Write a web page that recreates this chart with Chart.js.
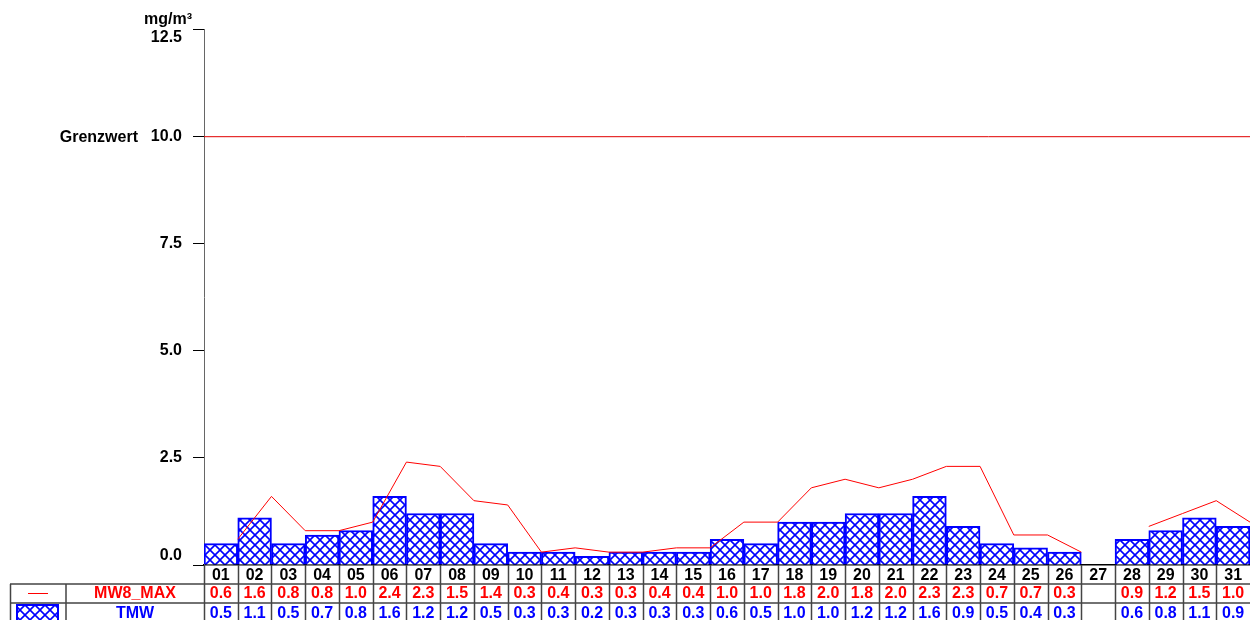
<!DOCTYPE html>
<html lang="de">
<head>
  <meta charset="UTF-8" />
  <title>MW8_MAX / TMW</title>
  <style>
    body { margin: 0; padding: 0; background: #fff; }
    #wrap { position: relative; width: 1250px; height: 620px; }
  </style>
  <script src="https://cdn.jsdelivr.net/npm/chart.js"></script>
</head>
<body>
  <div id="wrap"><canvas id="chart"></canvas></div>

  <script>
    // data
    const days = ['01','02','03','04','05','06','07','08','09','10','11','12','13','14','15','16',
                  '17','18','19','20','21','22','23','24','25','26','27','28','29','30','31'];
    const mw8Max = [0.6, 1.6, 0.8, 0.8, 1.0, 2.4, 2.3, 1.5, 1.4, 0.3, 0.4, 0.3, 0.3, 0.4, 0.4, 1.0,
                    1.0, 1.8, 2.0, 1.8, 2.0, 2.3, 2.3, 0.7, 0.7, 0.3, null, 0.9, 1.2, 1.5, 1.0];
    const tmw = [0.5, 1.1, 0.5, 0.7, 0.8, 1.6, 1.2, 1.2, 0.5, 0.3, 0.3, 0.2, 0.3, 0.3, 0.3, 0.6,
                 0.5, 1.0, 1.0, 1.2, 1.2, 1.6, 0.9, 0.5, 0.4, 0.3, null, 0.6, 0.8, 1.1, 0.9];
    const yTicks = [0, 2.5, 5, 7.5, 10, 12.5];
    const limitValue = 10.0;
    const limitLabel = 'Grenzwert';
    const unitLabel = 'mg/m³';
    const seriesNames = ['MW8_MAX', 'TMW'];

    const FONT = 'bold 16px "Liberation Sans", Arial, sans-serif';
    const RED = '#ff0000';
    const BLUE = '#0000ff';

    // cross hatch fill
    function makeHatch() {
      const s = 10;
      const c = document.createElement('canvas');
      c.width = s; c.height = s;
      const g = c.getContext('2d');
      g.fillStyle = '#fff';
      g.fillRect(0, 0, s, s);
      g.strokeStyle = BLUE;
      g.lineWidth = 1.6;
      g.beginPath();
      g.moveTo(-1, -1); g.lineTo(s + 1, s + 1);
      g.moveTo(s + 1, -1); g.lineTo(-1, s + 1);
      g.stroke();
      return g.createPattern(c, 'repeat');
    }
    const hatch = makeHatch();

    // y labels, limit line, and the value table under the plot
    const extras = {
      id: 'extras',
      beforeDatasetsDraw(chart) {
        const ctx = chart.ctx;
        const y = chart.scales.y;
        const area = chart.chartArea;
        const yl = y.getPixelForValue(limitValue);
        ctx.save();
        ctx.strokeStyle = '#e00000';
        ctx.lineWidth = 1;
        ctx.beginPath();
        ctx.moveTo(area.left, yl + 0.5);
        ctx.lineTo(area.right, yl + 0.5);
        ctx.stroke();
        ctx.restore();
      },
      afterDraw(chart) {
        const ctx = chart.ctx;
        const y = chart.scales.y;
        const x2 = chart.scales.x2;
        const area = chart.chartArea;
        ctx.save();
        ctx.font = FONT;
        ctx.fillStyle = '#000';
        ctx.textAlign = 'right';
        ctx.textBaseline = 'middle';

        yTicks.forEach(v => {
          let py = y.getPixelForValue(v);
          if (v === y.max) py += 9;
          if (v === y.min) py -= 9;
          ctx.fillText(v.toFixed(1), 182, py);
        });
        ctx.fillText(limitLabel, 138, y.getPixelForValue(limitValue) + 1);
        ctx.fillText(unitLabel, 192, 20);

        // table
        const top = area.bottom;
        const r1 = 584, r2 = 603, bottom = 620;
        ctx.strokeStyle = '#444';
        ctx.lineWidth = 1.5;
        ctx.beginPath();
        ctx.moveTo(10, r1); ctx.lineTo(area.right, r1);
        ctx.moveTo(10, r2); ctx.lineTo(area.right, r2);
        ctx.moveTo(10.5, r1); ctx.lineTo(10.5, bottom);
        ctx.moveTo(66, r1); ctx.lineTo(66, bottom);
        for (let i = 0; i < days.length; i++) {
          const bx = Math.round(x2.getPixelForValue(i)) + 0.5;
          ctx.moveTo(bx, top); ctx.lineTo(bx, bottom);
        }
        ctx.stroke();

        // legend symbols
        ctx.strokeStyle = RED;
        ctx.lineWidth = 1;
        ctx.beginPath();
        ctx.moveTo(28, 593.5); ctx.lineTo(48, 593.5);
        ctx.stroke();
        ctx.fillStyle = hatch;
        ctx.fillRect(17, 605, 41, 20);
        ctx.strokeStyle = BLUE;
        ctx.lineWidth = 2;
        ctx.strokeRect(17, 605, 41, 20);

        ctx.textAlign = 'center';
        ctx.font = FONT;
        ctx.fillStyle = RED;
        ctx.fillText(seriesNames[0], 135, 594);
        ctx.fillStyle = BLUE;
        ctx.fillText(seriesNames[1], 135, 614);

        for (let i = 0; i < days.length; i++) {
          const cx = x2.getPixelForValue(i + 0.5);
          ctx.fillStyle = '#000';
          ctx.fillText(days[i], cx, 576);
          if (mw8Max[i] !== null) {
            ctx.fillStyle = RED;
            ctx.fillText(mw8Max[i].toFixed(1), cx, 594);
          }
          if (tmw[i] !== null) {
            ctx.fillStyle = BLUE;
            ctx.fillText(tmw[i].toFixed(1), cx, 614);
          }
        }
        ctx.restore();
      }
    };

    new Chart(document.getElementById('chart'), {
      data: {
        labels: days,
        datasets: [{
          type: 'line',
          label: seriesNames[0],
          data: mw8Max.map((v, i) => ({ x: i + 1, y: v })),
          xAxisID: 'x2',
          borderColor: RED,
          borderWidth: 1,
          pointRadius: 0,
          tension: 0,
          spanGaps: false,
          order: 0
        }, {
          type: 'bar',
          label: seriesNames[1],
          data: tmw,
          xAxisID: 'x',
          backgroundColor: hatch,
          borderColor: BLUE,
          borderWidth: 2,
          barPercentage: 1,
          categoryPercentage: 1,
          grouped: false,
          order: 1
        }]
      },
      options: {
        responsive: true,
        maintainAspectRatio: false,
        animation: false,
        layout: { padding: { top: 29, left: 0, right: 0, bottom: 0 } },
        plugins: {
          legend: { display: false },
          tooltip: { enabled: false }
        },
        scales: {
          x: {
            type: 'category',
            offset: true,
            afterFit(s) { s.height = 55; },
            border: { color: '#000', width: 1.5 },
            grid: { display: false },
            ticks: { display: false }
          },
          x2: {
            type: 'linear',
            display: false,
            min: 0,
            max: days.length
          },
          y: {
            min: 0,
            max: 12.5,
            afterFit(s) { s.width = 204; },
            afterBuildTicks(s) { s.ticks = yTicks.map(v => ({ value: v })); },
            border: { color: '#666', width: 1 },
            grid: { drawOnChartArea: false, color: '#000', tickLength: 11 },
            ticks: { display: false }
          }
        }
      },
      plugins: [extras]
    });
  </script>
</body>
</html>
